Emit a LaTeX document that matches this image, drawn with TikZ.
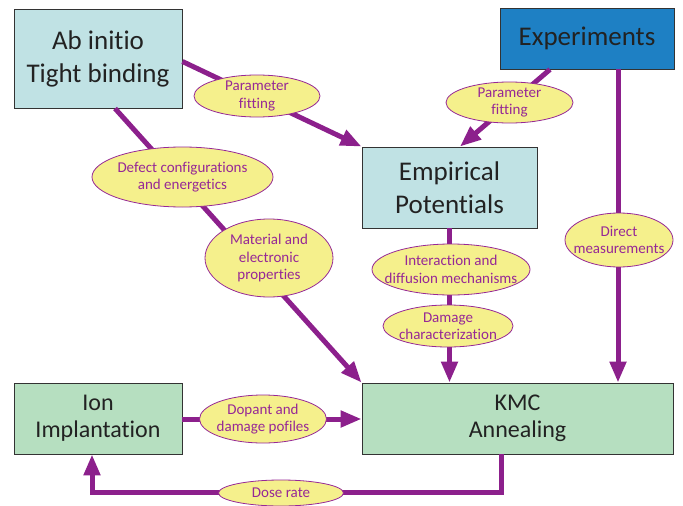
\documentclass[tikz,border=0pt]{standalone}
\usepackage{fontspec}
\setmainfont{Carlito}[Ligatures=CommonOff]
\usetikzlibrary{arrows.meta,shapes.geometric}
\definecolor{arrowpurple}{RGB}{140,32,140}
\definecolor{labpurple}{RGB}{150,40,150}
\definecolor{labfill}{RGB}{245,240,140}
\definecolor{cyanbox}{RGB}{192,226,228}
\definecolor{greenbox}{RGB}{182,223,192}
\definecolor{bluebox}{RGB}{30,128,196}
\definecolor{boxtext}{RGB}{34,34,34}
\tikzset{
  box/.style={draw=black!80, line width=0.9pt, text=boxtext, align=center, inner sep=0pt},
  bigtext/.style={font=\fontsize{27}{33}\selectfont},
  midtext/.style={font=\fontsize{24}{27}\selectfont},
  lab/.style={ellipse, draw=labpurple, line width=0.8pt, fill=labfill, text=labpurple,
    align=center, inner sep=-30pt, font=\fontsize{15}{17.5}\selectfont},
  conn/.style={draw=arrowpurple, line width=5pt},
  arr/.style={conn, -{Triangle[length=21pt,width=16pt]}},
}
\begin{document}
\begin{tikzpicture}[x=1pt,y=-1pt]
\useasboundingbox (0,0) rectangle (683,506);
% boxes
\node[box, bigtext, fill=cyanbox, minimum width=168pt, minimum height=99pt] (abinit) at (98,58.5) {Ab initio\\Tight binding};
\node[box, bigtext, fill=bluebox, minimum width=174pt, minimum height=61pt] (exper) at (587,38.5) {Experiments};
\node[box, bigtext, fill=cyanbox, minimum width=175pt, minimum height=81pt] (emp) at (449.5,187.5) {Empirical\\Potentials};
\node[box, midtext, fill=greenbox, minimum width=168pt, minimum height=71pt] (ion) at (98,418.5) {Ion\\Implantation};
\node[box, midtext, fill=greenbox, minimum width=311pt, minimum height=71pt] (kmc) at (517.5,418.5) {KMC\\Annealing};
% connectors
\draw[arr] ([yshift=-3pt]abinit.east) -- (emp.north west);
\draw[arr] ([xshift=-37pt]exper.south) -- ([xshift=10.5pt]emp.north);
\draw[arr] ([xshift=31pt]exper.south) -- ([xshift=31pt]exper.south |- kmc.north);
\draw[arr] ([xshift=17pt]abinit.south) -- (kmc.north west);
\draw[arr] (emp.south) -- (emp.south |- kmc.north);
\draw[arr] ([yshift=-0.5pt]ion.east) -- ([yshift=-0.5pt]kmc.west);
\draw[arr, line join=miter] ([xshift=-16.5pt]kmc.south) -- ++(0,38) -| ([xshift=-6pt]ion.south);
% labels
\node[lab, minimum width=126pt, minimum height=42pt] (pf1) at (257,96) {Parameter\\fitting};
\node[lab, minimum width=127pt, minimum height=41pt] (pf2) at (509.5,102.5) {Parameter\\fitting};
\node[lab, minimum width=108pt, minimum height=54pt] (dm) at (619,240) {Direct\\measurements};
\node[lab, minimum width=181pt, minimum height=60pt] (dc) at (182.5,177) {Defect configurations\\and energetics};
\node[lab, minimum width=128pt, minimum height=78pt] (mp) at (269,258) {Material and\\electronic\\properties};
\node[lab, minimum width=158pt, minimum height=51pt] (ia) at (451,269.5) {Interaction and\\diffusion mechanisms};
\node[lab, minimum width=130pt, minimum height=42pt] (dmg) at (448,326) {Damage\\characterization};
\node[lab, minimum width=127pt, minimum height=48pt] (dp) at (263,419) {Dopant and\\damage pofiles};
\node[lab, minimum width=125pt, minimum height=26pt] (dr) at (281,493) {Dose rate};
\end{tikzpicture}
\end{document}
